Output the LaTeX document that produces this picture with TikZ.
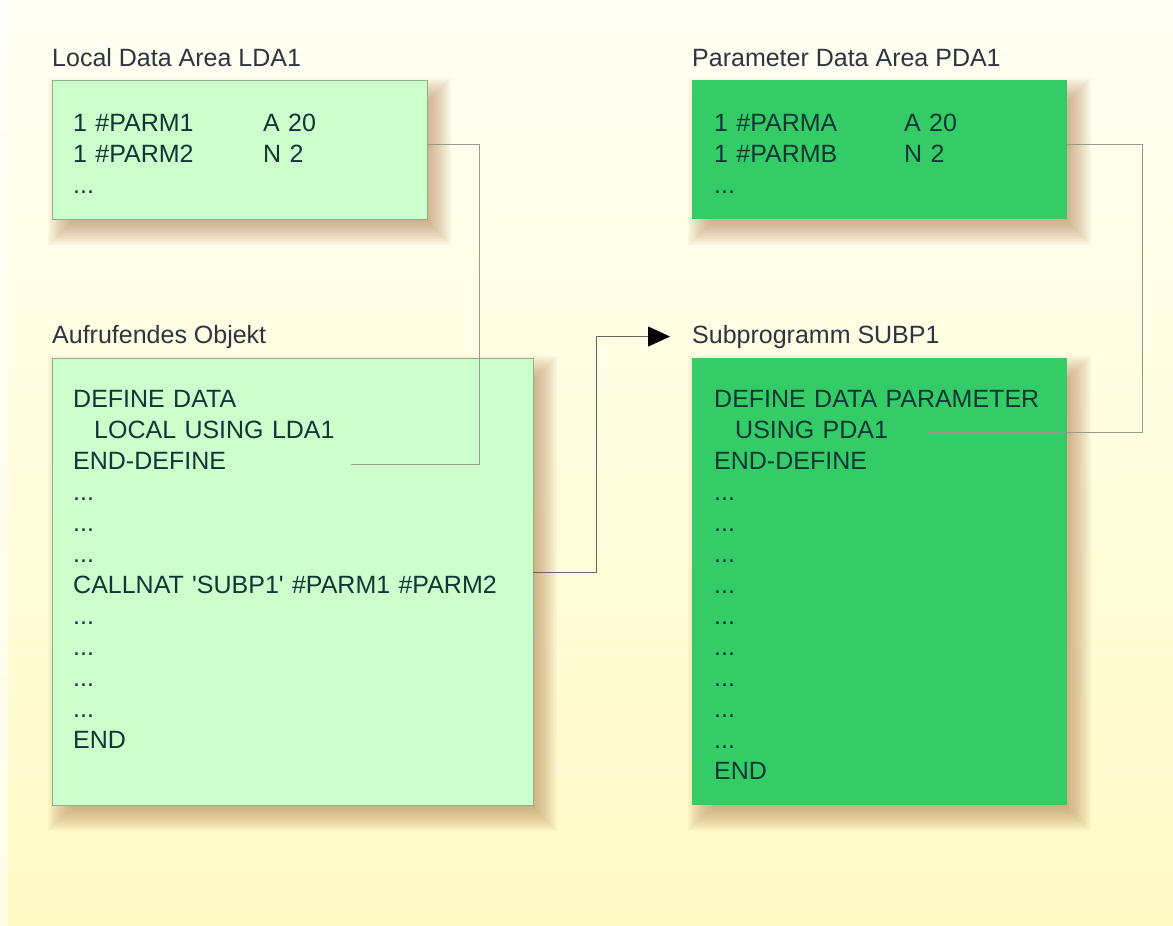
\documentclass[tikz,border=0pt]{standalone}
\usepackage{fontspec}
\setmainfont{Liberation Sans}
\usetikzlibrary{arrows.meta, positioning, backgrounds, calc}

\definecolor{bgtop}{HTML}{FFFFF4}
\definecolor{bgbottom}{HTML}{FFFAC6}
\definecolor{lightgreen}{HTML}{CCFFCC}
\definecolor{darkgreen}{HTML}{33CC66}
\definecolor{codetext}{HTML}{103636}
\definecolor{titletext}{HTML}{2E3440}
\definecolor{shadowbrown}{HTML}{B07848}
\definecolor{linegray}{HTML}{9A9A8C}

\begin{document}
\begin{tikzpicture}[
  x=1pt, y=-1pt,
  title/.style={anchor=base west, inner sep=0pt, text=titletext, font=\fontsize{25}{30}\selectfont},
  box/.style={anchor=north west, rectangle, inner sep=0pt, outer sep=0pt},
  lightbox/.style={box, fill=lightgreen, draw=green!20!gray!75, line width=0.8pt},
  darkbox/.style={box, fill=darkgreen},
  code/.style={anchor=base west, inner sep=0pt, text=codetext, align=left, text width=440pt,
               font=\fontsize{25}{31}\selectfont},
  wire/.style={draw=linegray, line width=1pt},
  arr/.style={-{Triangle[length=22pt, width=20pt, black]}, draw=black!60, line width=1pt},
]

% ------------------------------------------------------------- background
\useasboundingbox (0,0) rectangle (1173,926);

% ------------------------------------------------------------------ boxes
\node[lightbox, minimum width=375pt, minimum height=139pt] (lda)    at (52,80)  {};
\node[lightbox, minimum width=481pt, minimum height=447pt] (caller) at (52,358) {};
\node[darkbox,  minimum width=375pt, minimum height=139pt] (pda)    at (692,80) {};
\node[darkbox,  minimum width=375pt, minimum height=447pt] (subp)   at (692,358) {};

% ---------------------------------------------------------------- shadows
\begin{scope}[on background layer]
  \shade[top color=bgtop, bottom color=bgbottom] (0,0) rectangle (1173,926);
  \fill[white, opacity=0.55] (0,0) rectangle (8,926);
  \foreach \b in {lda,caller,pda,subp}{
    \foreach \k in {0,...,13}{
      \fill[shadowbrown, opacity=0.06]
        ($(\b.north west)+(10-14+2*\k,12-14+2*\k)$) rectangle ($(\b.south east)+(10+14-2*\k,12+14-2*\k)$);
    }
  }
\end{scope}

% ----------------------------------------------------------------- titles
\node[title] (ldatitle)    at (52,66)   {Local Data Area LDA1};
\node[title] (callertitle) at (52,343)  {Aufrufendes Objekt};
\node[title] (pdatitle)    at (692,66)  {Parameter Data Area PDA1};
\node[title] (subptitle)   at (692,343) {Subprogramm SUBP1};

% ------------------------------------------------------------------- code
\node[code] (ldatext) at (73,131) {\makebox[190pt][l]{1 \#PARM1}A 20\\
  \makebox[190pt][l]{1 \#PARM2}N 2\\ ...};
\node[code] (pdatext) at (714,131) {\makebox[190pt][l]{1 \#PARMA}A 20\\
  \makebox[190pt][l]{1 \#PARMB}N 2\\ ...};
\node[code] (callertext) at (73,407) {DEFINE DATA\\ \hspace*{21pt}LOCAL USING LDA1\\ END-DEFINE\\
  ...\\ ...\\ ...\\ CALLNAT \textquotesingle SUBP1\textquotesingle{} \#PARM1 \#PARM2\\
  ...\\ ...\\ ...\\ ...\\ END};
\node[code] (subptext) at (714,407) {DEFINE DATA PARAMETER\\ \hspace*{21pt}USING PDA1\\ END-DEFINE\\
  ...\\ ...\\ ...\\ ...\\ ...\\ ...\\ ...\\ ...\\ ...\\ END};

% ------------------------------------------------------------- connectors
\coordinate (ldaref) at (351,464);
\coordinate (pdaref) at (928,432);
\draw[wire] ($(lda.north east)+(0,64)$) -- ++(52,0) |- (ldaref);
\draw[wire] ($(pda.north east)+(0,64)$) -- ++(75,0) |- (pdaref);
\draw[arr]  ($(caller.north east)+(0,214)$) -- ++(63,0) |- ([xshift=-22pt]subptitle.west);

\end{tikzpicture}
\end{document}
